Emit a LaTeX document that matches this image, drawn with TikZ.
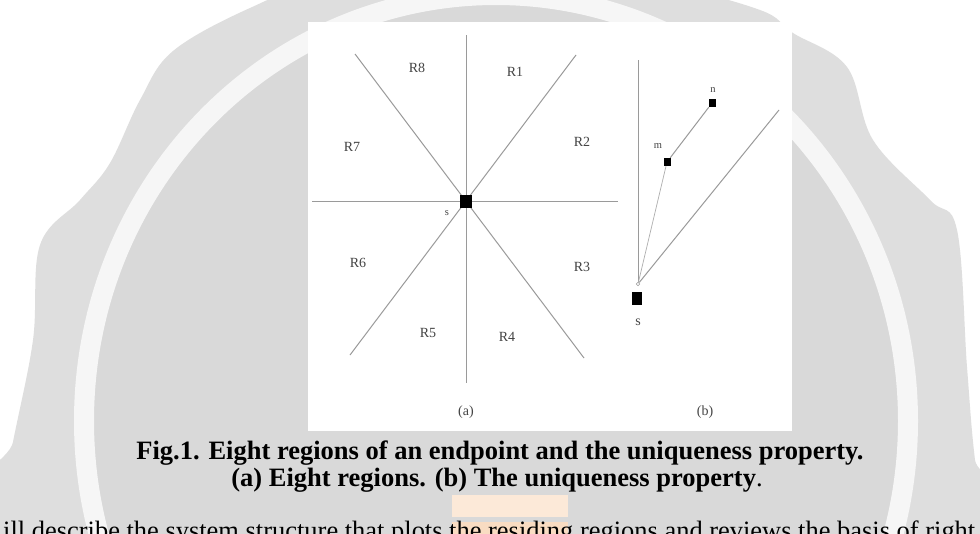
\documentclass[tikz,border=0pt]{standalone}
\usepackage{fontspec}
\setmainfont{Liberation Serif}
\usepackage{graphicx}
\definecolor{wmouter}{HTML}{DEDEDE}
\definecolor{wminner}{HTML}{D9D9D9}
\definecolor{wmring}{HTML}{F6F6F6}
\definecolor{peachA}{HTML}{FCE9D8}
\definecolor{peachB}{HTML}{F9DCC2}
\definecolor{linegray}{HTML}{9A9A9A}
\definecolor{labgray}{HTML}{444444}
\begin{document}
\begin{tikzpicture}[x=1pt,y=-1pt,
  seg/.style={draw=linegray,line width=1pt},
  thinseg/.style={draw=linegray!80,line width=0.7pt},
  lab/.style={font=\fontsize{14}{14}\selectfont,text=labgray,inner sep=0pt},
  tinylab/.style={font=\fontsize{10.5}{10.5}\selectfont,text=labgray,inner sep=0pt},
  bigsq/.style={fill=black,inner sep=0pt,minimum width=12pt,minimum height=13pt},
  midsq/.style={fill=black,inner sep=0pt,minimum width=10pt,minimum height=13pt},
  smallsq/.style={fill=black,inner sep=0pt,minimum width=7pt,minimum height=8pt},
  captext/.style={font=\bfseries\fontsize{26.5}{26.5}\selectfont,inner sep=0pt}
]
\useasboundingbox (0,0) rectangle (980,533);
\begin{scope}
\clip (0,0) rectangle (980,533);
\fill[white] (0,0) rectangle (980,533);
% watermark
\fill[wmouter] plot[smooth cycle,tension=0.6] coordinates {
  (-10,560) (13,442) (33,340) (40,245) (80,200) (110,163) (140,100) (173,51)
  (250,8) (320,-15) (490,-35) (660,-15) (760,10) (793,33) (847,67) (873,140)
  (930,200) (957,230) (967,367) (975,460) (990,560)};
\fill[wminner] (496,421) ellipse [x radius=402, y radius=416];
\draw[wmring,line width=20pt] (496,421) ellipse [x radius=412, y radius=426];
\fill[peachA] (452,495) rectangle (568,517);
\fill[peachB] (452,522) rectangle (568,540);
% bottom cut-off text
\node[anchor=base west,inner sep=0pt,font=\fontsize{26.5}{26.5}\selectfont] (body) at (3,539)
  {\resizebox{972pt}{\height}{ill describe the system structure that plots the residing regions and reviews the basis of right}};
\end{scope}
% figure panel
\fill[white] (308,22) rectangle (792,431);
% (a) eight regions
\coordinate (hl) at (312,201);
\coordinate (hr) at (618,201);
\coordinate (vt) at (466,35);
\coordinate (vb) at (466,383);
\coordinate (ur) at (576,55);
\coordinate (dl) at (350,355);
\coordinate (ul) at (355,54);
\coordinate (dr) at (584,358);
\draw[seg] (hl) -- (hr);
\draw[seg] (vt) -- (vb);
\draw[seg] (ul) -- (dr);
\draw[seg] (dl) -- (ur);
\node[bigsq] (sa) at (466,201) {};
\node[lab] (r8) at (417,68) {R8};
\node[lab] (r1) at (515,72) {R1};
\node[lab] (r7) at (352,147) {R7};
\node[lab] (r2) at (582,142) {R2};
\node[lab] (r6) at (358,263) {R6};
\node[lab] (r3) at (582,267) {R3};
\node[lab] (r5) at (428,333) {R5};
\node[lab] (r4) at (507,337) {R4};
\node[tinylab] (slab) at (447,213) {s};
\node[lab] (capa) at (466,412) {(a)};
% (b) uniqueness property
\coordinate (vt2) at (638,60);
\coordinate (far) at (779,110);
\node[circle,draw=linegray,line width=0.5pt,inner sep=0pt,minimum size=3.5pt] (o) at (638,284) {};
\node[midsq] (sb) at (637,298) {};
\node[smallsq] (m) at (667,162) {};
\node[smallsq] (n) at (712,103) {};
\draw[seg] (vt2) -- (o);
\draw[thinseg] (o) -- (m);
\draw[seg] (m) -- (n);
\draw[seg] (o) -- (far);
\node[tinylab] (mlab) at (658,146) {m};
\node[tinylab] (nlab) at (713,90) {n};
\node[lab] (sblab) at (638,322) {s};
\node[lab] (capb) at (705,412) {(b)};
% caption
\node[captext] (cap1) at (500,453) {Fig.1. Eight regions of an endpoint and the uniqueness property.};
\node[captext] (cap2) at (497,480) {(a) Eight regions. (b) The uniqueness property{\mdseries .}};
\end{tikzpicture}
\end{document}
